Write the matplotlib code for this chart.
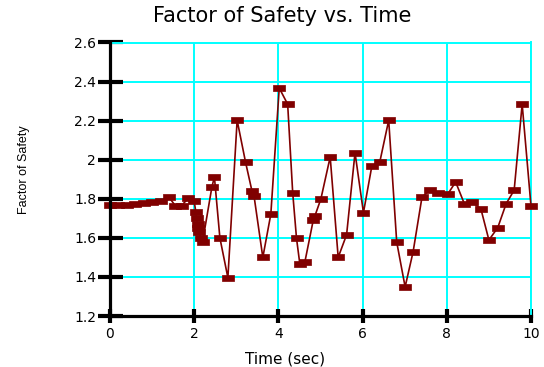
import matplotlib
matplotlib.use("Agg")
import matplotlib.pyplot as plt
from matplotlib.path import Path

# Data
time_sec = [0.0, 0.2, 0.4, 0.6, 0.8, 1.0, 1.2, 1.4, 1.55, 1.7, 1.86, 2.0,
            2.04, 2.06, 2.08, 2.1, 2.12, 2.15, 2.2, 2.42, 2.48, 2.61, 2.8,
            3.02, 3.22, 3.37, 3.42, 3.63, 3.82, 4.02, 4.22, 4.34, 4.43, 4.51,
            4.63, 4.83, 4.87, 5.01, 5.23, 5.42, 5.62, 5.82, 6.02, 6.22, 6.41,
            6.62, 6.81, 7.01, 7.2, 7.41, 7.6, 7.8, 8.02, 8.21, 8.42, 8.61,
            8.81, 9.0, 9.21, 9.41, 9.6, 9.79, 10.0]
factor_of_safety = [1.77, 1.77, 1.77, 1.775, 1.78, 1.785, 1.79, 1.808, 1.765, 1.765, 1.803, 1.788,
                    1.73, 1.70, 1.67, 1.65, 1.63, 1.60, 1.58, 1.86, 1.912, 1.60, 1.396,
                    2.202, 1.987, 1.842, 1.816, 1.50, 1.721, 2.367, 2.284, 1.83, 1.598, 1.465,
                    1.478, 1.693, 1.714, 1.80, 2.014, 1.50, 1.616, 2.036, 1.729, 1.968, 1.99,
                    2.202, 1.579, 1.349, 1.529, 1.808, 1.845, 1.831, 1.823, 1.886, 1.773, 1.782,
                    1.748, 1.589, 1.652, 1.775, 1.844, 2.284, 1.763]
x_ticks = [0, 2, 4, 6, 8, 10]
y_ticks = [1.2, 1.4, 1.6, 1.8, 2.0, 2.2, 2.4, 2.6]
y_tick_labels = ["1.2", "1.4", "1.6", "1.8", "2", "2.2", "2.4", "2.6"]

fig = plt.figure(figsize=(5.44, 3.67), dpi=100)
ax = fig.add_axes([110/544, 1-316/367, 421/544, (316-42.5)/367])

rect = Path([(-1, -0.55), (1, -0.55), (1, 0.55), (-1, 0.55), (-1, -0.55)],
            [Path.MOVETO, Path.LINETO, Path.LINETO, Path.LINETO, Path.CLOSEPOLY])
ax.plot(time_sec, factor_of_safety, color="#800000", lw=1.2,
        marker=rect, markersize=8, markerfacecolor="#800000",
        markeredgecolor="#800000", markeredgewidth=0.5, zorder=3, clip_on=False)

ax.set_xlim(0, 10)
ax.set_ylim(1.2, 2.6)
ax.set_xticks(x_ticks)
ax.set_yticks(y_ticks)
ax.set_yticklabels(y_tick_labels)
ax.grid(True, color="#00FFFF", lw=1.4, zorder=0)
ax.set_axisbelow(True)

for s in ["top", "right"]:
    ax.spines[s].set_color("#00FFFF")
    ax.spines[s].set_linewidth(1.4)
for s in ["left", "bottom"]:
    ax.spines[s].set_color("black")
    ax.spines[s].set_linewidth(2.3)
    ax.spines[s].set_zorder(4)

ax.tick_params(axis="y", direction="inout", length=18, width=3, pad=1,
               labelsize=10, colors="black")
ax.tick_params(axis="x", direction="inout", length=10, width=3, pad=3,
               labelsize=10, colors="black")
for lbl in ax.get_xticklabels() + ax.get_yticklabels():
    lbl.set_family("DejaVu Sans")

fig.text(0.518, 0.957, "Factor of Safety vs. Time", ha="center", va="center",
         fontsize=15, family="DejaVu Sans")
fig.text(0.524, 0.022, "Time (sec)", ha="center", va="center",
         fontsize=11, family="DejaVu Sans")
fig.text(24/544, 1-170/367, "Factor of Safety", ha="center", va="center",
         rotation=90, fontsize=9, family="Liberation Sans")

fig.savefig("out.png", dpi=100)
